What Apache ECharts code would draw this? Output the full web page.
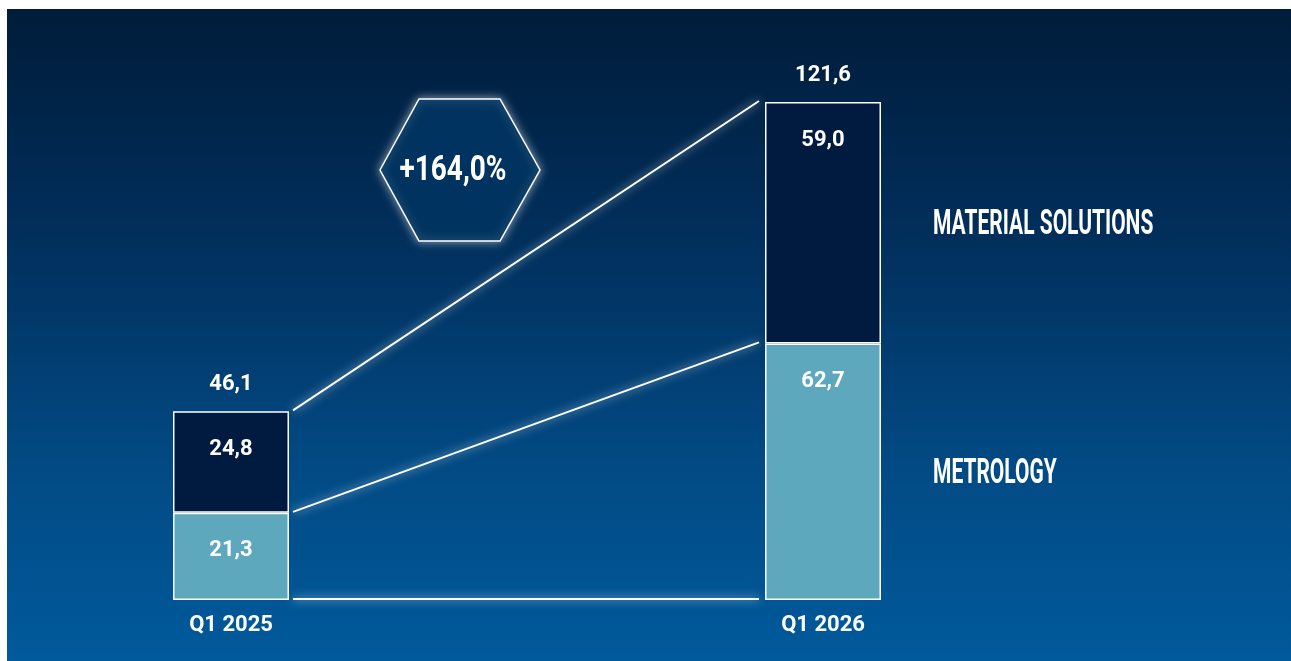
<!DOCTYPE html>
<html>
<head>
<meta charset="utf-8">
<script src="https://cdn.jsdelivr.net/npm/echarts@6/dist/echarts.min.js"></script>
<style>
html,body{margin:0;padding:0;background:#fff;}
#chart{width:1291px;height:661px;}
</style>
</head>
<body>
<div id="chart"></div>
<script>
// ---- data ----
const categories = ['Q1 2025', 'Q1 2026'];
const metrology = [21.3, 62.7];
const materialSolutions = [24.8, 59.0];
const totals = [46.1, 121.6];
const segmentNames = ['METROLOGY', 'MATERIAL SOLUTIONS'];
const growthLabel = '+164,0%';

const fmt = v => v.toFixed(1).replace('.', ',');

// connector levels: bottom, metrology top, total top
const levels = [
  [0, 0],
  [metrology[0], metrology[1]],
  [metrology[0] + materialSolutions[0], metrology[1] + materialSolutions[1]]
];
// right-side segment labels for the last category
const lastIdx = categories.length - 1;
const segmentSpans = [
  [0, metrology[lastIdx], segmentNames[0]],
  [metrology[lastIdx], metrology[lastIdx] + materialSolutions[lastIdx], segmentNames[1]]
];

const BAR_W = 116;
const numFont = 'Roboto';

const chart = echarts.init(document.getElementById('chart'));
chart.setOption({
  backgroundColor: '#ffffff',
  animation: false,
  graphic: [
    {
      type: 'rect', z: -10, silent: true,
      shape: { x: 7, y: 9, width: 1284, height: 652 },
      style: {
        fill: {
          type: 'linear', x: 0, y: 0, x2: 0, y2: 1,
          colorStops: [
            { offset: 0, color: '#001c3a' },
            { offset: 0.35, color: '#012f5c' },
            { offset: 0.7, color: '#024a84' },
            { offset: 1, color: '#005a9b' }
          ]
        }
      }
    },
    {
      type: 'polygon', z: 5,
      shape: { points: [[380, 170], [419, 99], [500, 99], [540, 170], [500, 241], [419, 241]] },
      style: {
        fill: '#00335f', stroke: '#ffffff', lineWidth: 1.5,
        shadowBlur: 10, shadowColor: 'rgba(255,255,255,0.55)'
      }
    },
    {
      type: 'text', z: 6, x: 453, y: 171, scaleX: 0.8,
      style: {
        text: growthLabel, fill: '#ffffff',
        font: 'bold 35px Roboto', align: 'center', verticalAlign: 'middle'
      }
    }
  ],
  grid: { left: 231, right: 468, top: 102, bottom: 61, containLabel: false },
  xAxis: {
    type: 'category', data: categories, boundaryGap: false,
    axisLine: { show: false }, axisTick: { show: false }, splitLine: { show: false },
    axisLabel: {
      color: '#ffffff', fontFamily: numFont, fontWeight: 'bold', fontSize: 22, margin: 14
    }
  },
  yAxis: {
    type: 'value', min: 0, max: function (v) { return v.max; },
    show: false, splitLine: { show: false }
  },
  series: [
    {
      name: segmentNames[0], type: 'bar', stack: 'total', data: metrology,
      barWidth: BAR_W, clip: false,
      itemStyle: { color: '#5ea8be', borderColor: '#ffffff', borderWidth: 1.5 },
      label: {
        show: true, position: 'insideTop', distance: 27,
        color: '#ffffff', fontFamily: numFont, fontWeight: 'bold', fontSize: 22,
        formatter: p => fmt(p.value)
      }
    },
    {
      name: segmentNames[1], type: 'bar', stack: 'total', data: materialSolutions,
      barWidth: BAR_W, clip: false,
      itemStyle: { color: '#001a40', borderColor: '#ffffff', borderWidth: 1.5 },
      label: {
        show: true, position: 'insideTop', distance: 27,
        color: '#ffffff', fontFamily: numFont, fontWeight: 'bold', fontSize: 22,
        formatter: p => fmt(p.value)
      }
    },
    {
      name: 'total', type: 'scatter', data: totals, symbolSize: 0, clip: false,
      itemStyle: { opacity: 1, color: 'rgba(0,0,0,0)' },
      label: {
        show: true, position: 'top', distance: 16, opacity: 1,
        color: '#ffffff', fontFamily: numFont, fontWeight: 'bold', fontSize: 22,
        formatter: p => fmt(p.value)
      }
    },
    {
      name: 'connectors', type: 'custom', clip: false, silent: true,
      data: levels,
      renderItem: function (params, api) {
        const p0 = api.coord([0, api.value(0)]);
        const p1 = api.coord([1, api.value(1)]);
        return {
          type: 'line',
          shape: { x1: p0[0] + BAR_W / 2 + 4, y1: p0[1] - 1, x2: p1[0] - BAR_W / 2 - 6, y2: p1[1] - 1 },
          style: {
            stroke: '#ffffff', lineWidth: 2,
            shadowBlur: 10, shadowColor: 'rgba(255,255,255,0.8)'
          }
        };
      }
    },
    {
      name: 'segmentNames', type: 'custom', clip: false, silent: true,
      data: segmentSpans,
      renderItem: function (params, api) {
        const a = api.coord([lastIdx, api.value(0)]);
        const b = api.coord([lastIdx, api.value(1)]);
        return {
          type: 'text',
          x: a[0] + BAR_W / 2 + 52, y: (a[1] + b[1]) / 2 + 3, scaleX: 0.6,
          style: {
            text: segmentSpans[params.dataIndex][2], fill: '#ffffff',
            font: 'bold 35px Roboto', align: 'left', verticalAlign: 'middle'
          }
        };
      }
    }
  ]
});
</script>
</body>
</html>
